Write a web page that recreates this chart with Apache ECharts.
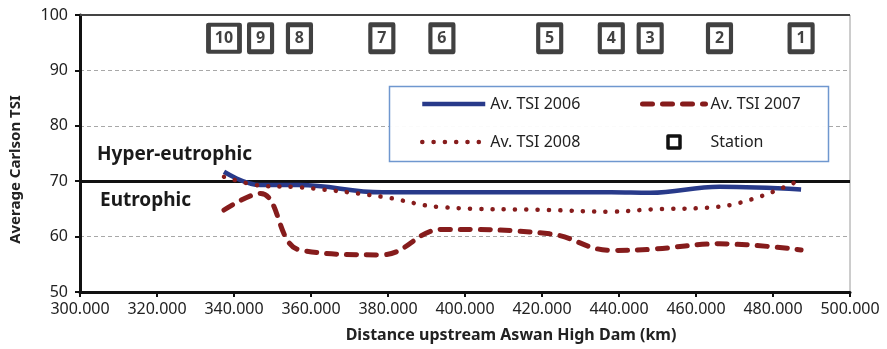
<!DOCTYPE html>
<html>
<head>
<meta charset="utf-8">
<script src="https://cdn.jsdelivr.net/npm/echarts@6/dist/echarts.min.js"></script>
<style>
  html, body { margin: 0; padding: 0; background: #fff; }
  #chart { width: 887px; height: 349px; }
</style>
</head>
<body>
<div id="chart"></div>
<script>
// station positions along the reservoir (km upstream of the dam)
var stationKm = [337.4, 346.9, 357.0, 378.4, 394.0, 422.0, 438.0, 448.1, 466.1, 487.3];
var stationNames = ['10', '9', '8', '7', '6', '5', '4', '3', '2', '1'];
var stationLevel = 95.8;

// average Carlson TSI at each station
var tsi2006 = [71.7, 69.3, 69.3, 68.0, 68.0, 68.0, 68.0, 67.9, 69.0, 68.5];
var tsi2007 = [64.8, 67.8, 57.6, 56.7, 61.3, 60.5, 57.5, 57.7, 58.7, 57.6];
var tsi2008 = [70.8, 69.2, 68.9, 67.2, 65.3, 64.8, 64.5, 64.9, 65.4, 70.3];

var xTicks = { min: 300, max: 500, interval: 20 };
var yTicks = { min: 50, max: 100, interval: 10 };
var eutrophicLimit = 70;

var font = 'Noto Sans';
var blue = '#283a8a';
var red = '#861c1c';

function pairs(vals) {
  return stationKm.map(function (km, i) { return [km, vals[i]]; });
}

var stationData = stationKm.map(function (km, i) {
  return { value: [km, stationLevel], name: stationNames[i] };
});

var chart = echarts.init(document.getElementById('chart'));

var legendText = { fontSize: 16, color: '#222', lineHeight: 20, fontFamily: font };

var option = {
  animation: false,
  textStyle: { fontFamily: font },
  grid: {
    left: 78, right: 37, top: 15, bottom: 57,
    show: true, borderColor: '#9a9a9a', borderWidth: 1
  },
  legend: [
    {
      orient: 'vertical', left: 420, top: 94, padding: 0,
      itemWidth: 63, itemHeight: 14, itemGap: 18,
      itemStyle: { opacity: 0 },
      lineStyle: { width: 4.5 },
      textStyle: legendText,
      data: ['Av. TSI 2006', 'Av. TSI 2008']
    },
    {
      orient: 'vertical', left: 640, top: 94, padding: 0,
      itemWidth: 63, itemHeight: 12, itemGap: 18,
      itemStyle: { opacity: 0 },
      lineStyle: { width: 5 },
      textStyle: legendText,
      data: [
        'Av. TSI 2007',
        {
          name: 'Station', icon: 'path://M0 0H10V10H0Z',
          itemStyle: { opacity: 1, color: '#fff', borderColor: '#111', borderWidth: 3.5, borderJoin: 'round' }
        }
      ]
    }
  ],
  graphic: [{
    type: 'rect',
    shape: { x: 389.5, y: 86.5, width: 439, height: 75 },
    style: { fill: 'rgba(255,255,255,0.95)', stroke: '#6f97cf', lineWidth: 1.5 },
    z: 1
  }],
  xAxis: {
    type: 'value',
    min: xTicks.min, max: xTicks.max, interval: xTicks.interval,
    name: 'Distance upstream Aswan High Dam (km)',
    nameLocation: 'middle', nameGap: 35,
    nameTextStyle: { fontSize: 16, fontWeight: 'bold', color: '#222', padding: [0, 0, 0, 92] },
    axisLine: { lineStyle: { color: '#111', width: 3 } },
    axisTick: { length: 5, lineStyle: { color: '#111', width: 2 } },
    axisLabel: {
      fontSize: 16, color: '#222', margin: 9,
      formatter: function (v) { return v.toFixed(3); }
    },
    splitLine: { show: false }
  },
  yAxis: {
    type: 'value',
    min: yTicks.min, max: yTicks.max, interval: yTicks.interval,
    name: 'Average Carlson TSI',
    nameLocation: 'middle', nameGap: 57,
    nameTextStyle: { fontSize: 15, fontWeight: 'bold', color: '#222', padding: [0, 32, 0, 0] },
    axisLine: { show: true, lineStyle: { color: '#111', width: 3 } },
    axisTick: { show: true, length: 5, lineStyle: { color: '#111', width: 2 } },
    axisLabel: { fontSize: 16, color: '#222', margin: 12 },
    splitLine: { lineStyle: { color: '#a8a8a8', width: 1, type: [4, 3] } }
  },
  series: [
    {
      name: 'Av. TSI 2006', type: 'line', smooth: 0.4, symbol: 'none',
      lineStyle: { color: blue, width: 4.5 },
      itemStyle: { color: blue },
      data: pairs(tsi2006),
      z: 3,
      markLine: {
        silent: true, symbol: 'none', z: 1,
        lineStyle: { color: '#111', width: 3, type: 'solid' },
        data: [
          {
            yAxis: eutrophicLimit,
            label: {
              show: true, position: 'insideStartTop', formatter: 'Hyper-eutrophic',
              fontSize: 19, fontWeight: 'bold', color: '#1a1a1a', fontFamily: font,
              distance: 4, padding: [0, 0, 13, 13]
            }
          },
          {
            yAxis: eutrophicLimit,
            label: {
              show: true, position: 'insideStartBottom', formatter: 'Eutrophic',
              fontSize: 19, fontWeight: 'bold', color: '#1a1a1a', fontFamily: font,
              distance: 4, padding: [6, 0, 0, 16]
            }
          },
          {
            yAxis: yTicks.max,
            lineStyle: { color: '#444', width: 2 },
            label: { show: false }
          }
        ]
      }
    },
    {
      name: 'Av. TSI 2007', type: 'line', smooth: 0.4, symbol: 'none',
      lineStyle: { color: red, width: 5, type: [10, 10], cap: 'round' },
      itemStyle: { color: red },
      data: pairs(tsi2007),
      z: 3
    },
    {
      name: 'Av. TSI 2008', type: 'line', smooth: 0.4, symbol: 'none',
      lineStyle: { color: red, width: 4.5, type: [0.1, 11.2], cap: 'round' },
      itemStyle: { color: red },
      data: pairs(tsi2008),
      z: 4
    },
    {
      name: 'Station', type: 'scatter',
      symbol: 'rect',
      symbolSize: function (val, p) { return p.name.length > 1 ? [31, 27] : [23, 27]; },
      itemStyle: { color: '#fff', borderColor: '#111', borderWidth: 4.5, borderJoin: 'round' },
      label: {
        show: true, position: 'inside', formatter: '{b}',
        fontSize: 16, fontWeight: 'bold', color: '#111', fontFamily: font
      },
      data: stationData,
      z: 5
    }
  ]
};

chart.setOption(option);
</script>
</body>
</html>
